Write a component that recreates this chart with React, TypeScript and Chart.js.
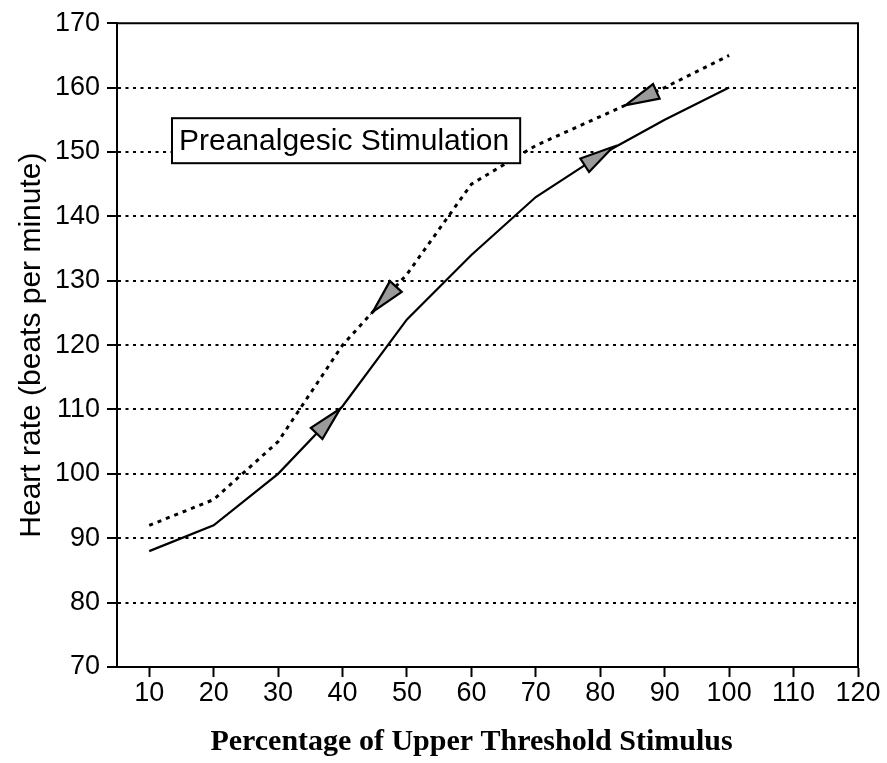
import { useEffect, useRef } from 'react';
import { Chart, registerables } from 'chart.js';

Chart.register(...registerables);

// ---- data ----
const stimulusPercent = [10, 20, 30, 40, 50, 60, 70, 80, 90, 100];
const ascendingRate = [88, 92, 100, 110.5, 124, 134, 143, 149.5, 155, 160];
const descendingRate = [92, 96, 105, 120, 131, 145, 151, 155.5, 160, 165];
const ascendingArrowAt = [37.8, 79.8];
const descendingArrowAt = [46.5, 86.3];
const xTickValues = [10, 20, 30, 40, 50, 60, 70, 80, 90, 100, 110, 120];
const yTickValues = [70, 80, 90, 100, 110, 120, 130, 140, 150, 160, 170];
const boxLabel = 'Preanalgesic Stimulation';
const xAxisTitle = 'Percentage of Upper Threshold Stimulus';
const yAxisTitle = 'Heart rate (beats per minute)';

const W = 887;
const H = 763;
const SANS = '"Liberation Sans", Arial, Helvetica, sans-serif';
const SERIF = '"Liberation Serif", "Times New Roman", serif';

function drawArrows(chart: any, values: number[], positions: number[], reverse: boolean) {
  const { ctx, scales } = chart;
  const xs = scales.x;
  const ys = scales.y;
  positions.forEach((pv) => {
    let i = 0;
    while (i < stimulusPercent.length - 2 && stimulusPercent[i + 1] < pv) i++;
    const x0 = stimulusPercent[i];
    const x1 = stimulusPercent[i + 1];
    const t = (pv - x0) / (x1 - x0);
    const vy = values[i] + t * (values[i + 1] - values[i]);
    const cx = xs.getPixelForValue(pv);
    const cy = ys.getPixelForValue(vy);
    let dx = xs.getPixelForValue(x1) - xs.getPixelForValue(x0);
    let dy = ys.getPixelForValue(values[i + 1]) - ys.getPixelForValue(values[i]);
    const len = Math.hypot(dx, dy);
    dx /= len;
    dy /= len;
    if (reverse) {
      dx = -dx;
      dy = -dy;
    }
    const L = 34;
    const Wd = 16;
    const tipX = cx + (dx * L) / 2;
    const tipY = cy + (dy * L) / 2;
    const bx = cx - (dx * L) / 2;
    const by = cy - (dy * L) / 2;
    const nx = -dy;
    const ny = dx;
    ctx.save();
    ctx.beginPath();
    ctx.moveTo(tipX, tipY);
    ctx.lineTo(bx + (nx * Wd) / 2, by + (ny * Wd) / 2);
    ctx.lineTo(bx - (nx * Wd) / 2, by - (ny * Wd) / 2);
    ctx.closePath();
    ctx.fillStyle = '#9a9a9a';
    ctx.fill();
    ctx.lineWidth = 2.2;
    ctx.lineJoin = 'miter';
    ctx.strokeStyle = '#000';
    ctx.stroke();
    ctx.restore();
  });
}

const decorPlugin = {
  id: 'decor',
  afterDatasetsDraw(chart: any) {
    const { ctx, chartArea: a } = chart;
    drawArrows(chart, ascendingRate, ascendingArrowAt, false);
    drawArrows(chart, descendingRate, descendingArrowAt, true);

    // label box
    ctx.save();
    ctx.font = `30px ${SANS}`;
    const tw = ctx.measureText(boxLabel).width;
    const bl = a.left + 55;
    const bt = a.top + 95;
    const bw = tw + 18;
    const bh = 45;
    ctx.fillStyle = '#fff';
    ctx.fillRect(bl, bt, bw, bh);
    ctx.lineWidth = 2;
    ctx.strokeStyle = '#000';
    ctx.strokeRect(bl, bt, bw, bh);
    ctx.fillStyle = '#000';
    ctx.textAlign = 'left';
    ctx.textBaseline = 'middle';
    ctx.fillText(boxLabel, bl + 7, bt + bh / 2 + 1);
    ctx.restore();
  },
  afterDraw(chart: any) {
    const { ctx, chartArea: a } = chart;
    ctx.save();
    // top and right frame
    ctx.strokeStyle = '#000';
    ctx.lineWidth = 2;
    ctx.beginPath();
    ctx.moveTo(a.left, a.top);
    ctx.lineTo(a.right, a.top);
    ctx.lineTo(a.right, a.bottom);
    ctx.stroke();

    // axis titles
    ctx.fillStyle = '#000';
    ctx.textAlign = 'center';
    ctx.textBaseline = 'alphabetic';
    ctx.font = `bold 30px ${SERIF}`;
    ctx.fillText(xAxisTitle, (a.left + a.right) / 2 - 16, 750);

    ctx.translate(40, (a.top + a.bottom) / 2);
    ctx.rotate(-Math.PI / 2);
    ctx.font = `30px ${SANS}`;
    ctx.fillText(yAxisTitle, 0, 0);
    ctx.restore();
  },
};

export default function App() {
  const ref = useRef<HTMLCanvasElement | null>(null);

  useEffect(() => {
    if (!ref.current) return;
    const chart = new Chart(ref.current, {
      type: 'line',
      data: {
        datasets: [
          {
            label: 'Ascending',
            data: stimulusPercent.map((v, i) => ({ x: v, y: ascendingRate[i] })),
            borderColor: '#000',
            borderWidth: 2.2,
            pointRadius: 0,
            tension: 0,
            fill: false,
          },
          {
            label: 'Descending',
            data: stimulusPercent.map((v, i) => ({ x: v, y: descendingRate[i] })),
            borderColor: '#000',
            borderWidth: 3,
            borderDash: [4, 5],
            pointRadius: 0,
            tension: 0,
            fill: false,
          },
        ],
      },
      options: {
        responsive: false,
        animation: false,
        devicePixelRatio: 1,
        layout: { padding: { left: 0, top: 20, right: 29, bottom: 0 } },
        plugins: {
          legend: { display: false },
          tooltip: { enabled: false },
          title: { display: false },
        },
        scales: {
          x: {
            type: 'linear',
            min: 5,
            max: 120,
            afterBuildTicks: (s: any) => {
              s.ticks = xTickValues.map((v) => ({ value: v }));
            },
            afterFit: (s: any) => {
              s.height = 96;
            },
            grid: {
              drawOnChartArea: false,
              drawTicks: true,
              tickLength: 10,
              tickWidth: 2,
              tickColor: '#000',
            },
            border: { display: true, color: '#000', width: 2 },
            ticks: {
              color: '#000',
              font: { family: SANS, size: 27 },
              padding: 0,
              maxRotation: 0,
              autoSkip: false,
            },
          },
          y: {
            type: 'linear',
            min: 70,
            max: 170,
            afterBuildTicks: (s: any) => {
              s.ticks = yTickValues.map((v) => ({ value: v }));
            },
            afterFit: (s: any) => {
              s.width = 117;
            },
            grid: {
              color: (c: any) =>
                c.tick && (c.tick.value === 70 || c.tick.value === 170) ? 'rgba(0,0,0,0)' : '#000',
              lineWidth: 2,
              drawTicks: true,
              tickLength: 10,
              tickWidth: 2,
              tickColor: '#000',
            },
            border: { display: true, color: '#000', width: 2, dash: [3, 4.5] },
            ticks: {
              color: '#000',
              font: { family: SANS, size: 27 },
              padding: 7,
              autoSkip: false,
            },
          },
        },
      },
      plugins: [decorPlugin],
    });
    return () => chart.destroy();
  }, []);

  return (
    <div style={{ position: 'absolute', left: 0, top: 0, width: W, height: H, background: '#fff' }}>
      <canvas ref={ref} width={W} height={H} style={{ display: 'block' }} />
    </div>
  );
}
